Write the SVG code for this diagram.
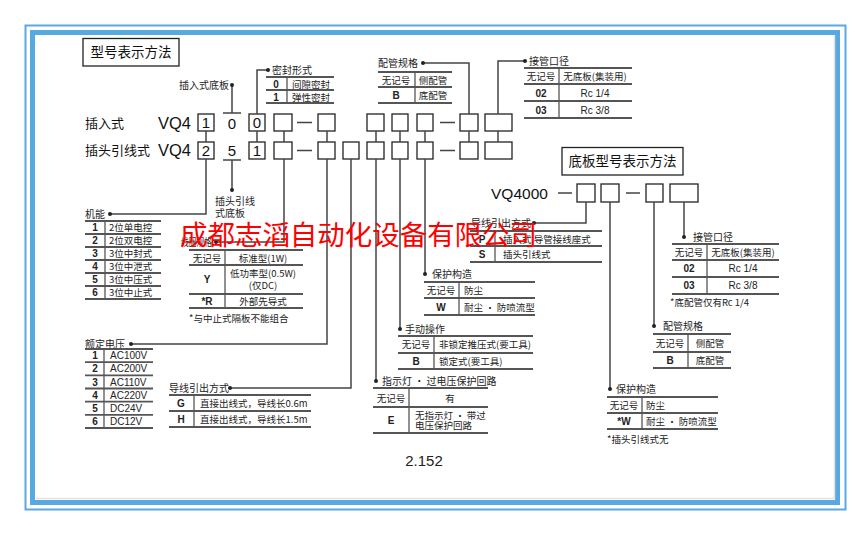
<svg xmlns="http://www.w3.org/2000/svg" width="866" height="536" viewBox="0 0 866 536">
<style>
.ln{stroke:#444;stroke-width:1.5;fill:none}
.tb{stroke:#555;stroke-width:1.8;fill:none}
.dv{stroke:#555;stroke-width:1.3;fill:none}
.bx{fill:#fff;stroke:#222;stroke-width:1.3}
.t{font-family:"Noto Sans CJK SC","Liberation Sans",sans-serif;font-size:9.5px;fill:#222}
.l{font-family:"Noto Sans CJK SC","Liberation Sans",sans-serif;font-size:10px;fill:#222}
.e{font-family:"Liberation Sans","Noto Sans CJK SC",sans-serif;font-size:10px;fill:#222}
.c{text-anchor:middle}
.big{font-family:"Noto Sans CJK SC",sans-serif;font-size:13.5px;fill:#111}
.vq{font-family:"Liberation Sans",sans-serif;font-size:16.5px;fill:#111}
.d{font-family:"Liberation Sans",sans-serif;font-size:15px;fill:#111;text-anchor:middle}
</style>
<defs>
<circle id="dot" r="2" fill="#222"/>
</defs>
<rect width="866" height="536" fill="#fff"/>
<!-- frame -->
<rect x="25.5" y="25.5" width="820" height="484" fill="none" stroke="#5aa8e2" stroke-width="2"/>
<rect x="32.5" y="32.5" width="805" height="470" fill="#fff" stroke="#5aa8e2" stroke-width="5"/>
<path d="M36 498.5H834.5V36" fill="none" stroke="#e2e2e2" stroke-width="1.5"/>

<!-- titles -->
<g id="title1"><rect x="83" y="38.5" width="96" height="27.5" fill="none" stroke="#222" stroke-width="1.3"/><text class="big" x="131" y="57" text-anchor="middle">型号表示方法</text></g>
<g id="title2"><rect x="562" y="147.5" width="121" height="27.5" fill="none" stroke="#222" stroke-width="1.3"/><text class="big" x="622.5" y="166" text-anchor="middle">底板型号表示方法</text></g>

<!-- model rows -->
<g id="row1">
<text class="big" x="85" y="128" style="font-size:13px">插入式</text>
<text class="vq" x="158" y="129">VQ4</text>
<rect class="bx" x="198" y="114" width="16" height="17"/><text class="d" x="206" y="128">1</text>
<text class="d" x="232" y="129">0</text>
<rect class="bx" x="249" y="114" width="16" height="17"/><text class="d" x="257" y="128">0</text>
<rect class="bx" x="274" y="114" width="18" height="17"/>
<rect class="bx" x="318" y="114" width="17" height="17"/>
<rect class="bx" x="367" y="114" width="17" height="17"/>
<rect class="bx" x="392" y="114" width="16" height="17"/>
<rect class="bx" x="417" y="114" width="16" height="17"/>
<rect class="bx" x="460" y="114" width="18" height="17"/>
<rect class="bx" x="485" y="114" width="27" height="17"/>
</g>
<g id="row2">
<text class="big" x="85" y="155" style="font-size:13px">插头引线式</text>
<text class="vq" x="158" y="156">VQ4</text>
<rect class="bx" x="198" y="142" width="16" height="17"/><text class="d" x="206" y="156">2</text>
<text class="d" x="232" y="156">5</text>
<rect class="bx" x="249" y="142" width="16" height="17"/><text class="d" x="257" y="156">1</text>
<rect class="bx" x="274" y="142" width="18" height="17"/>
<rect class="bx" x="318" y="142" width="17" height="17"/>
<rect class="bx" x="343" y="142" width="16" height="17"/>
<rect class="bx" x="367" y="142" width="17" height="17"/>
<rect class="bx" x="392" y="142" width="16" height="17"/>
<rect class="bx" x="417" y="142" width="16" height="17"/>
<rect class="bx" x="460" y="142" width="18" height="17"/>
<rect class="bx" x="485" y="142" width="27" height="17"/>
</g>
<g id="vq4000">
<text class="vq" x="491" y="199" style="font-size:15.5px">VQ4000</text>
<rect class="bx" x="577" y="184" width="18" height="18"/>
<rect class="bx" x="601" y="184" width="18" height="18"/>
<rect class="bx" x="646" y="184" width="17" height="18"/>
<rect class="bx" x="670" y="184" width="28" height="18"/>
</g>

<!-- connectors -->
<g id="connectors" class="ln">
<path d="M297 122.5H312M440 122.5H455M297 150.5H312M440 150.5H455M558 193H572M626 193H640"/>
<path d="M206 131V142M257 131V142M284 131V142M327 131V142M376 131V142M400 131V142M425 131V142M469 131V142M498 131V142"/>
<path d="M223 113H241M232 113V85"/>
<path d="M223 160H241M232 160V190"/>
<path d="M257 114V70H268"/>
<path d="M469 114V63H423"/>
<path d="M498 114V61H525"/>
<path d="M206 159V214H110"/>
<path d="M284 159V242H216"/>
<path d="M327 159V344H131"/>
<path d="M351 159V388H230"/>
<path d="M376 159V381"/>
<path d="M400 159V329"/>
<path d="M425 159V274"/>
<path d="M586 202V223H534"/>
<path d="M610 202V389"/>
<path d="M654 202V326"/>
<path d="M684 202V237"/>
</g>

<!-- 插入式底板 / 插头引线式底板 -->
<g id="base1"><use href="#dot" x="232" y="85"/><text class="l" x="179" y="88.5">插入式底板</text></g>
<g id="base2"><use href="#dot" x="232" y="190"/><text class="l" x="215" y="205">插头引线</text><text class="l" x="215" y="217">式底板</text></g>

<!-- 密封形式 -->
<g id="seal"><use href="#dot" x="268" y="70"/><text class="l" x="272" y="73.5">密封形式</text>
<path class="tb" d="M266 77H334M266 90H334M266 103H334"/><path class="dv" d="M287 77V103"/>
<text class="e c" x="276" y="87.5" style="font-weight:bold">0</text><text class="t" x="292" y="87.5">间隙密封</text>
<text class="e c" x="276" y="100.5" style="font-weight:bold">1</text><text class="t" x="292" y="100.5">弹性密封</text></g>

<!-- 配管规格 top -->
<g id="pipe1"><use href="#dot" x="423" y="63"/><text class="l" x="378" y="66.5">配管规格</text>
<path class="tb" d="M378 72H452M378 87H452M378 103H452"/><path class="dv" d="M415 72V103"/>
<text class="t c" x="396" y="83.5">无记号</text><text class="t c" x="433" y="83.5">侧配管</text>
<text class="e c" x="396" y="98.5" style="font-weight:bold">B</text><text class="t c" x="433" y="98.5">底配管</text></g>

<!-- 接管口径 top -->
<g id="port1"><use href="#dot" x="525" y="61"/><text class="l" x="529" y="64.5">接管口径</text>
<path class="tb" d="M524 68H632M524 84H632M524 101H632M524 118H632"/><path class="dv" d="M559 68V118"/>
<text class="t c" x="541" y="79.5">无记号</text><text class="t c" x="595" y="79.5">无底板(集装用)</text>
<text class="e c" x="541" y="96.5" style="font-weight:bold">02</text><text class="e c" x="595" y="96.5">Rc 1/4</text>
<text class="e c" x="541" y="113.5" style="font-weight:bold">03</text><text class="e c" x="595" y="113.5">Rc 3/8</text></g>

<!-- 机能 -->
<g id="func"><use href="#dot" x="110" y="214"/><text class="l" x="85" y="217.5">机能</text>
<path class="tb" d="M85 221H161M85 234H161M85 247H161M85 260H161M85 273H161M85 286H161M85 299H161"/><path class="dv" d="M105 221V299"/>
<text class="e c" x="95" y="231" style="font-weight:bold">1</text><text class="t" x="109" y="231">2位单电控</text>
<text class="e c" x="95" y="244" style="font-weight:bold">2</text><text class="t" x="109" y="244">2位双电控</text>
<text class="e c" x="95" y="257" style="font-weight:bold">3</text><text class="t" x="109" y="257">3位中封式</text>
<text class="e c" x="95" y="270" style="font-weight:bold">4</text><text class="t" x="109" y="270">3位中泄式</text>
<text class="e c" x="95" y="283" style="font-weight:bold">5</text><text class="t" x="109" y="283">3位中压式</text>
<text class="e c" x="95" y="296" style="font-weight:bold">6</text><text class="t" x="109" y="296">3位中止式</text></g>

<!-- 线圈规格 -->
<g id="coil"><use href="#dot" x="216" y="242"/><text class="l" x="181" y="245.5" textLength="31" lengthAdjust="spacingAndGlyphs">线圈规格</text>
<path class="tb" d="M189 250H303M189 265H303M189 294H303M189 308H303"/><path class="dv" d="M225 250V308"/>
<text class="t c" x="207" y="261.5">无记号</text><text class="t c" x="263" y="261.5">标准型(1W)</text>
<text class="e c" x="207" y="283" style="font-weight:bold">Y</text><text class="t c" x="263" y="276.5">低功率型(0.5W)</text><text class="t c" x="263" y="288.5">(仅DC)</text>
<text class="e c" x="207" y="304.5" style="font-weight:bold">*R</text><text class="t c" x="263" y="304.5">外部先导式</text>
<text class="t" x="189" y="321.5">*与中止式隔板不能组合</text></g>

<!-- 额定电压 -->
<g id="volt"><use href="#dot" x="131" y="344"/><text class="l" x="85" y="347.5">额定电压</text>
<path class="tb" d="M85 349H153M85 362.2H153M85 375.3H153M85 388.5H153M85 401.7H153M85 414.8H153M85 428H153"/><path class="dv" d="M104 349V428"/>
<text class="e c" x="95" y="359.3" style="font-weight:bold">1</text><text class="e" x="110" y="359.3">AC100V</text>
<text class="e c" x="95" y="372.4" style="font-weight:bold">2</text><text class="e" x="110" y="372.4">AC200V</text>
<text class="e c" x="95" y="385.6" style="font-weight:bold">3</text><text class="e" x="110" y="385.6">AC110V</text>
<text class="e c" x="95" y="398.8" style="font-weight:bold">4</text><text class="e" x="110" y="398.8">AC220V</text>
<text class="e c" x="95" y="411.9" style="font-weight:bold">5</text><text class="e" x="110" y="411.9">DC24V</text>
<text class="e c" x="95" y="425.1" style="font-weight:bold">6</text><text class="e" x="110" y="425.1">DC12V</text></g>

<!-- 导线引出方式 left -->
<g id="lead1"><use href="#dot" x="230" y="388"/><text class="l" x="169" y="391.5">导线引出方式</text>
<path class="tb" d="M169 395H311M169 411H311M169 427H311"/><path class="dv" d="M194 395V427"/>
<text class="e c" x="181" y="406.5" style="font-weight:bold">G</text><text class="t" x="200" y="406.5">直接出线式，导线长0.6m</text>
<text class="e c" x="181" y="422.5" style="font-weight:bold">H</text><text class="t" x="200" y="422.5">直接出线式，导线长1.5m</text></g>

<!-- 保护构造 left -->
<g id="prot1"><use href="#dot" x="425" y="274"/><text class="l" x="432" y="277.5">保护构造</text>
<path class="tb" d="M424 282H535M424 298H535M424 315H535"/><path class="dv" d="M459 282V315"/>
<text class="t c" x="441" y="293.5">无记号</text><text class="t" x="464" y="293.5">防尘</text>
<text class="e c" x="441" y="310.5" style="font-weight:bold">W</text><text class="t" x="464" y="310.5">耐尘 · 防喷流型</text></g>

<!-- 手动操作 -->
<g id="manual"><use href="#dot" x="400" y="329"/><text class="l" x="405" y="332.5">手动操作</text>
<path class="tb" d="M398 336H533M398 353H533M398 369H533"/><path class="dv" d="M434 336V369"/>
<text class="t c" x="416" y="348">无记号</text><text class="t" x="439" y="348">非锁定推压式(要工具)</text>
<text class="e c" x="416" y="364.5" style="font-weight:bold">B</text><text class="t" x="439" y="364.5">锁定式(要工具)</text></g>

<!-- 指示灯 -->
<g id="light"><use href="#dot" x="376" y="381"/><text class="l" x="382" y="384.5">指示灯 · 过电压保护回路</text>
<path class="tb" d="M373 388H488M373 407H488M373 433H488"/><path class="dv" d="M409 388V433"/>
<text class="t c" x="391" y="401.5">无记号</text><text class="t c" x="450" y="401.5">有</text>
<text class="e c" x="391" y="423.5" style="font-weight:bold">E</text><text class="t" x="415" y="418.5">无指示灯 · 带过</text><text class="t" x="415" y="429">电压保护回路</text></g>

<!-- 导线引出方式 right -->
<g id="lead2"><use href="#dot" x="534" y="223"/><text class="l" x="471" y="226.5">导线引出方式</text>
<path class="tb" d="M470 231H602M470 246H602M470 262H602"/><path class="dv" d="M495 231V262"/>
<text class="e c" x="482" y="242.5" style="font-weight:bold">P</text><text class="t" x="503" y="242.5">插入式 导管接线座式</text>
<text class="e c" x="482" y="258" style="font-weight:bold">S</text><text class="t" x="503" y="258">插头引线式</text></g>

<!-- 接管口径 right -->
<g id="port2"><use href="#dot" x="684" y="237"/><text class="l" x="693" y="240.5">接管口径</text>
<path class="tb" d="M672 244H779M672 260H779M672 277H779M672 294H779"/><path class="dv" d="M707 244V294"/>
<text class="t c" x="689" y="255.5">无记号</text><text class="t c" x="743" y="255.5">无底板(集装用)</text>
<text class="e c" x="689" y="272" style="font-weight:bold">02</text><text class="e c" x="743" y="272">Rc 1/4</text>
<text class="e c" x="689" y="289" style="font-weight:bold">03</text><text class="e c" x="743" y="289">Rc 3/8</text>
<text class="t" x="670" y="305.5">*底配管仅有Rc 1/4</text></g>

<!-- 配管规格 right -->
<g id="pipe2"><use href="#dot" x="654" y="326"/><text class="l" x="663" y="329.5">配管规格</text>
<path class="tb" d="M653 334H731M653 352H731M653 368H731"/><path class="dv" d="M688 334V368"/>
<text class="t c" x="670" y="346.5">无记号</text><text class="t c" x="710" y="346.5">侧配管</text>
<text class="e c" x="670" y="363.5" style="font-weight:bold">B</text><text class="t c" x="710" y="363.5">底配管</text></g>

<!-- 保护构造 right -->
<g id="prot2"><use href="#dot" x="610" y="389"/><text class="l" x="616" y="392.5">保护构造</text>
<path class="tb" d="M607 397H718M607 413H718M607 429H718"/><path class="dv" d="M642 397V429"/>
<text class="t c" x="624" y="409">无记号</text><text class="t" x="646" y="409">防尘</text>
<text class="e c" x="624" y="425" style="font-weight:bold">*W</text><text class="t" x="646" y="425">耐尘 · 防喷流型</text>
<text class="t" x="607" y="442.5">*插头引线式无</text></g>

<text x="424" y="466" font-family="Liberation Sans Narrow,Liberation Sans,sans-serif" font-size="15" fill="#222" text-anchor="middle">2.152</text>

<text x="180" y="245" font-family="Noto Sans CJK SC,sans-serif" font-size="27.5" fill="#f00" textLength="357" lengthAdjust="spacingAndGlyphs">成都志滔自动化设备有限公司</text>
</svg>
